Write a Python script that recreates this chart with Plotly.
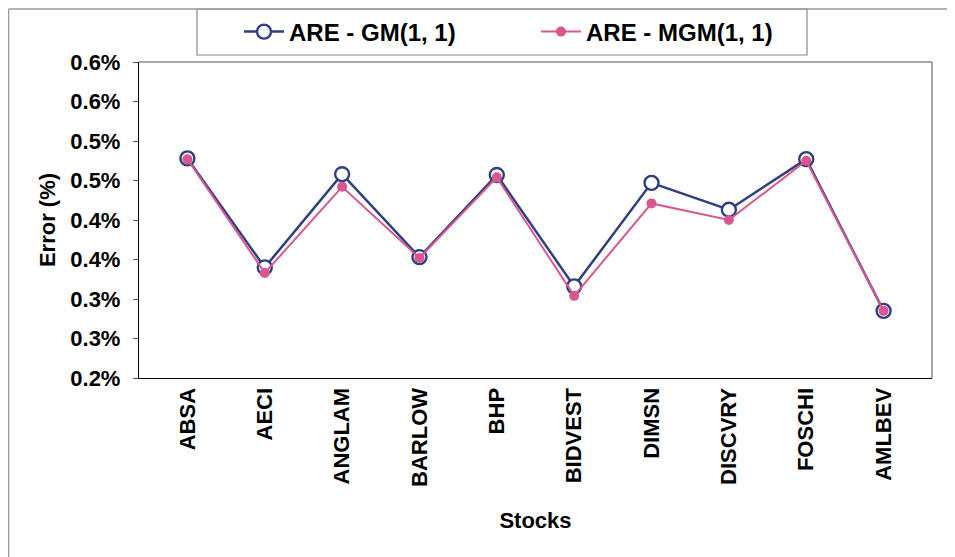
import plotly.graph_objects as go

stocks = ["ABSA", "AECI", "ANGLAM", "BARLOW", "BHP", "BIDVEST", "DIMSN", "DISCVRY", "FOSCHI", "AMLBEV"]
are_gm = [0.478, 0.340, 0.458, 0.353, 0.457, 0.316, 0.447, 0.413, 0.477, 0.285]
are_mgm = [0.477, 0.333, 0.442, 0.352, 0.454, 0.304, 0.421, 0.400, 0.475, 0.285]
y_ticks = [0.20, 0.25, 0.30, 0.35, 0.40, 0.45, 0.50, 0.55, 0.60]
y_tick_labels = ["0.2%", "0.3%", "0.3%", "0.4%", "0.4%", "0.5%", "0.5%", "0.6%", "0.6%"]

navy = "#2F3F80"
pink = "#D9578E"
font = "Liberation Sans, Arial, sans-serif"

W, H = 947, 549
L, R, T, B = 131, 23, 54, 179
PW, PH = W - L - R, H - T - B

def px(x):
    return (x - L) / PW

def py(y):
    return (H - B - y) / PH

fig = go.Figure()
fig.add_trace(go.Scatter(
    x=stocks, y=are_gm, name="ARE - GM(1, 1)", mode="lines+markers",
    line=dict(color=navy, width=2.5),
    marker=dict(symbol="circle", size=14, color="white", line=dict(color=navy, width=2.4)),
))
fig.add_trace(go.Scatter(
    x=stocks, y=are_mgm, name="ARE - MGM(1, 1)", mode="lines+markers",
    line=dict(color=pink, width=2),
    marker=dict(symbol="circle", size=10, color=pink),
))

shapes = [
    # outer figure frame (left and top edges)
    dict(type="line", xref="paper", yref="paper", x0=px(0.5), x1=px(W), y0=py(1), y1=py(1),
         line=dict(color="#9a9a9a", width=1.5)),
    dict(type="line", xref="paper", yref="paper", x0=px(0.5), x1=px(0.5), y0=py(1), y1=py(H),
         line=dict(color="#9a9a9a", width=1.5)),
    # legend box
    dict(type="rect", xref="paper", yref="paper", x0=px(189), x1=px(799), y0=py(1), y1=py(47),
         line=dict(color="#8a8a8a", width=1.2), fillcolor="white", layer="below"),
    # grey top/right plot frame
    dict(type="line", xref="paper", yref="paper", x0=0, x1=1, y0=1, y1=1,
         line=dict(color="#8a8a8a", width=1.5)),
    dict(type="line", xref="paper", yref="paper", x0=1, x1=1, y0=0, y1=1,
         line=dict(color="#8a8a8a", width=1.5)),
]

fig.update_layout(
    width=W, height=H,
    margin=dict(l=L, r=R, t=T, b=B, autoexpand=False),
    paper_bgcolor="white", plot_bgcolor="white",
    font=dict(family=font, color="black"),
    showlegend=True,
    shapes=shapes,
    legend=dict(
        orientation="h", x=px(231), xanchor="left", y=py(24), yanchor="middle",
        font=dict(size=24, family=font, weight="bold", color="black"),
        borderwidth=0, bgcolor="rgba(0,0,0,0)",
        itemwidth=40, entrywidth=242, tracegroupgap=0,
    ),
    xaxis=dict(
        title=dict(text="<b>Stocks</b>", font=dict(size=22, family=font), standoff=26),
        tickangle=-90, tickfont=dict(size=22, family=font, weight="bold"),
        showline=True, linecolor="black", linewidth=1.3, mirror=False,
        showgrid=False, ticks="", automargin=False,
    ),
    yaxis=dict(
        title=dict(text="<b>Error (%)</b>", font=dict(size=22, family=font), standoff=8),
        range=[0.20, 0.60], tickvals=y_ticks, ticktext=y_tick_labels,
        tickfont=dict(size=22, family=font, weight="bold"),
        showline=True, linecolor="black", linewidth=1.3, mirror=False,
        showgrid=False, ticks="outside", ticklen=5, tickcolor="#555555",
        ticklabelstandoff=8, automargin=False,
    ),
)

fig.write_html("out.html")
